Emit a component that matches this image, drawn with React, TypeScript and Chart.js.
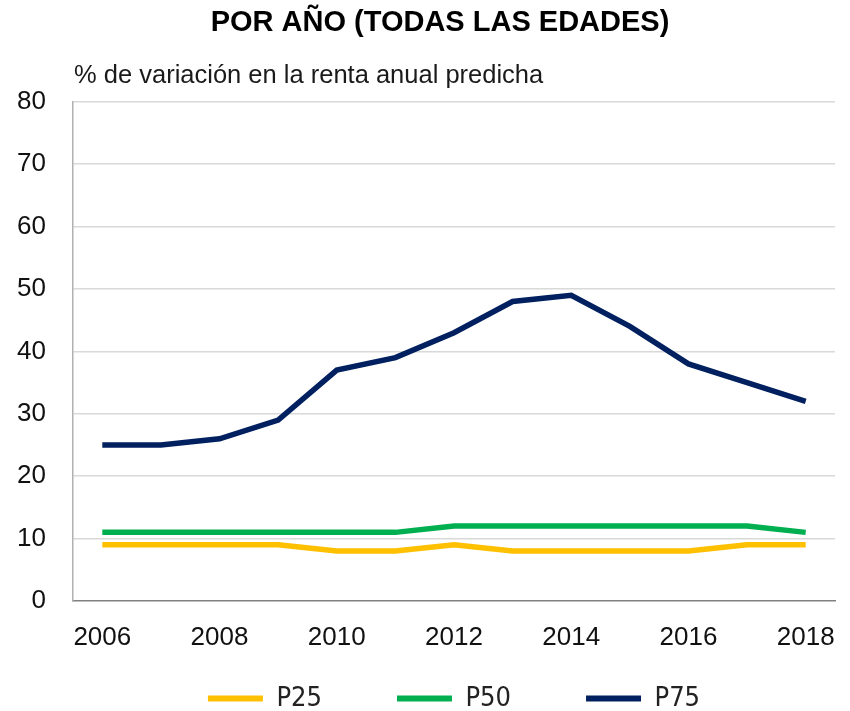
import React, { useEffect, useRef } from "react";
import { Chart, registerables } from "chart.js";

Chart.register(...registerables);

const TITLE = "POR AÑO (TODAS LAS EDADES)";
const SUBTITLE = "% de variación en la renta anual predicha";
const years = ["2006", "2007", "2008", "2009", "2010", "2011", "2012", "2013", "2014", "2015", "2016", "2017", "2018"];
const p25 = [9, 9, 9, 9, 8, 8, 9, 8, 8, 8, 8, 9, 9];
const p50 = [11, 11, 11, 11, 11, 11, 12, 12, 12, 12, 12, 12, 11];
const p75 = [25, 25, 26, 29, 37, 39, 43, 48, 49, 44, 38, 35, 32];
const seriesNames = ["P25", "P50", "P75"];
const seriesColors = ["#FFC000", "#00B050", "#002060"];

const FONT = "'Liberation Sans', Arial, Helvetica, sans-serif";
const NARROW = "'Liberation Sans Narrow', 'DejaVu Sans Condensed', 'Liberation Sans', sans-serif";

export default function App() {
  const ref = useRef<HTMLCanvasElement | null>(null);

  useEffect(() => {
    document.body.style.margin = "0";
    const canvas = ref.current;
    if (!canvas) return;

    const subtitlePlugin = {
      id: "subtitleText",
      afterDraw(chart: any) {
        const { ctx, chartArea } = chart;
        ctx.save();
        ctx.font = `25.5px ${FONT}`;
        ctx.fillStyle = "#1a1a1a";
        ctx.textAlign = "left";
        ctx.textBaseline = "alphabetic";
        ctx.fillText(SUBTITLE, chartArea.left + 1, chartArea.top - 19);
        ctx.restore();
      },
    };

    const noLabelClip = (s: any) => {
      s._computeLabelArea = () => undefined;
    };

    const data = [p25, p50, p75];
    const chart = new Chart(canvas, {
      type: "line",
      data: {
        labels: years,
        datasets: seriesNames.map((name, i) => ({
          label: name,
          data: data[i],
          borderColor: seriesColors[i],
          backgroundColor: seriesColors[i],
          borderWidth: 5.5,
          pointRadius: 0,
          pointHoverRadius: 0,
          tension: 0,
          fill: false,
        })),
      },
      options: {
        responsive: false,
        animation: false,
        layout: { padding: { left: 45, right: 15, top: 0, bottom: 0 } },
        plugins: {
          title: {
            display: true,
            text: TITLE,
            color: "#000",
            font: { family: FONT, size: 29, weight: "bold" },
            padding: { top: 6, bottom: 61 },
          },
          legend: {
            position: "bottom",
            fullSize: false,
            maxHeight: 101,
            labels: {
              color: "#222",
              font: { family: NARROW, size: 27 },
              boxWidth: 55,
              boxHeight: 6,
              padding: 75,
              generateLabels: (ch: any) => {
                const items = Chart.defaults.plugins.legend.labels.generateLabels(ch);
                return items.map((it: any) => ({ ...it, lineWidth: 0 }));
              },
            },
          },
          tooltip: { enabled: false },
        },
        scales: {
          x: {
            offset: true,
            afterFit: (s: any) => {
              s.height = 9;
              s.paddingLeft = 0;
              s.paddingRight = 0;
              noLabelClip(s);
            },
            grid: { display: false, drawTicks: false },
            border: { display: true, color: "#808080", width: 1.5 },
            ticks: {
              autoSkip: false,
              maxRotation: 0,
              padding: 21,
              color: "#111",
              font: { family: FONT, size: 26 },
              callback: (_v: any, idx: number) => (idx % 2 === 0 ? years[idx] : ""),
            },
          },
          y: {
            min: 0,
            max: 80,
            afterFit: (s: any) => {
              s.width = 28;
              noLabelClip(s);
            },
            grid: {
              drawTicks: false,
              color: (c: any) => (c.tick && c.tick.value === 0 ? "rgba(0,0,0,0)" : "#d9d9d9"),
              lineWidth: 1.5,
            },
            border: { display: true, color: "#b0b0b0", width: 1.5 },
            ticks: {
              stepSize: 10,
              padding: 27,
              color: "#111",
              font: { family: FONT, size: 26 },
            },
          },
        },
      },
      plugins: [subtitlePlugin],
    });

    return () => chart.destroy();
  }, []);

  return (
    <div style={{ width: 850, height: 711, background: "#fff" }}>
      <canvas ref={ref} width={850} height={711} style={{ display: "block" }} />
    </div>
  );
}
